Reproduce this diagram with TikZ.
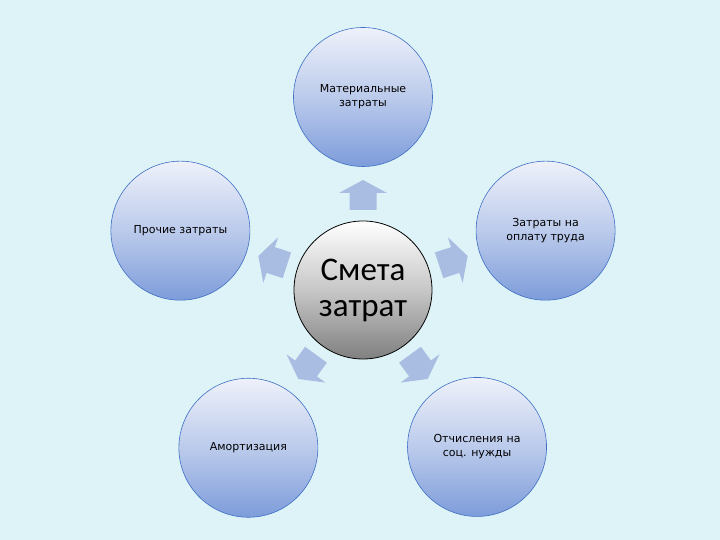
\documentclass[tikz,border=0pt]{standalone}
\usepackage{fontspec}
\usetikzlibrary{calc}
\setmainfont{DejaVu Sans}
\newfontfamily\bigfont{Carlito}
\definecolor{bgcol}{HTML}{DDF3F7}
\definecolor{arrcol}{HTML}{A9BCE2}
\definecolor{circtop}{HTML}{EEF1FA}
\definecolor{circbot}{HTML}{7D9CDA}
\definecolor{circedge}{HTML}{3F6FC4}
\tikzset{
  outer/.style={circle, minimum size=139pt, inner sep=0pt, draw=circedge, line width=0.6pt,
    top color=circtop, bottom color=circbot, middle color=circtop!55!circbot,
    font=\fontsize{11}{14}\selectfont, align=center, text=black},
  centre/.style={circle, minimum size=138pt, inner sep=0pt, draw=black, line width=0.8pt,
    top color=white, bottom color=black!50, middle color=black!22,
    font=\bigfont\fontsize{33}{36}\selectfont, align=center, text=black},
  blockarrow/.style={fill=arrcol, draw=none}
}
\begin{document}
\begin{tikzpicture}[x=1pt,y=1pt]
\fill[bgcol] (0,0) rectangle (720,540);
\useasboundingbox (0,0) rectangle (720,540);
\coordinate (o) at (363,250);
\node[centre] (c) at (o) {Смета\\затрат};
\node[outer] (m) at ($(o)+(90:193)$) {Материальные\\затраты};
\node[outer] (p) at ($(o)+(162:192)$) {Прочие затраты};
\node[outer] (z) at ($(o)+(18:192)$) {Затраты на\\оплату труда};
\node[outer] (a) at ($(o)+(234:195)$) {Амортизация};
\node[outer] (s) at ($(o)+(306:194)$) {Отчисления на\\соц. нужды};
\foreach \ang in {90,162,18,234,306}{
  \begin{scope}[shift={(o)}, rotate=\ang]
    \fill[blockarrow] (80,-13.5) -- (97,-13.5) -- (97,-24) -- (110,0) -- (97,24) -- (97,13.5) -- (80,13.5) -- cycle;
  \end{scope}
}
\end{tikzpicture}
\end{document}
